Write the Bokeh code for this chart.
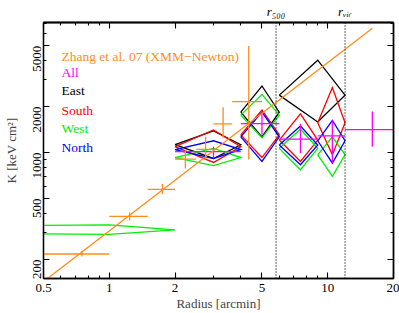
import math
from bokeh.plotting import figure
from bokeh.models import LogAxis, FixedTicker, Span, Label
from bokeh.embed import file_html
from bokeh.resources import INLINE

# ---------------- data ----------------
x_ticks = [0.5, 1, 2, 5, 10, 20]
x_tick_labels = ["0.5", "1", "2", "5", "10", "20"]
x_minor = [0.6, 0.7, 0.8, 0.9, 3, 4, 6, 7, 8, 9]
y_ticks = [200, 500, 1000, 2000, 5000]
y_tick_labels = ["200", "500", "1000", "2000", "5000"]
y_minor = [300, 400, 600, 700, 800, 900, 3000, 4000, 6000, 7000]

r500 = 5.8
rvir = 12.0
radius_marks = [r500, rvir]
radius_mark_labels = ["r\u2085\u2080\u2080", "r\u1d65\u1d62\u1d63"]

# Zhang et al. 07 (XMM-Newton)
zhang_r = [0.75, 1.24, 1.75, 2.23, 2.76, 3.32, 4.35]
zhang_rlo = [0.5, 1.0, 1.5, 2.0, 2.5, 3.0, 3.65]
zhang_rhi = [1.0, 1.5, 2.0, 2.5, 3.0, 3.65, 5.0]
zhang_K = [217, 383, 574, 905, 1050, 1540, 2155]
zhang_Klo = [209, 359, 536, 788, 901, 1250, 900]
zhang_Khi = [227, 406, 622, 1045, 1268, 1981, 4974]

# power-law fit line (end points)
fit_r = [0.4, 16.0]
fit_K = [112, 6500]

# All
all_r = [3.0, 5.0, 7.5, 10.5, 16.0]
all_rlo = [2.0, 4.0, 6.0, 9.0, 12.0]
all_rhi = [4.0, 6.0, 9.0, 12.0, 20.0]
all_K = [1015, 1546, 1226, 1287, 1414]
all_Klo = [928, 1307, 990, 853, 1093]
all_Khi = [1093, 1839, 1545, 1626, 1858]

# East
east_r = [3.0, 5.0, 9.0]
east_rlo = [2.0, 4.0, 6.0]
east_rhi = [4.0, 6.0, 12.0]
east_K = [1126, 1839, 2377]
east_Klo = [915, 1268, 1585]
east_Khi = [1387, 2727, 4023]

# South
south_r = [3.0, 5.0, 7.5, 10.5]
south_rlo = [2.0, 4.0, 6.0, 9.0]
south_rhi = [4.0, 6.0, 9.0, 12.0]
south_K = [1093, 1307, 1208, 1569]
south_Klo = [862, 928, 875, 966]
south_Khi = [1406, 1895, 1793, 2666]

# West (first bin starts at r = 0)
west_r = [1.0, 3.0, 5.0, 7.5, 10.5]
west_rlo = [0.001, 2.0, 4.0, 6.0, 9.0]
west_rhi = [2.0, 4.0, 6.0, 9.0, 12.0]
west_K = [312, 928, 1758, 1066, 966]
west_Klo = [292, 821, 1250, 773, 700]
west_Khi = [336, 1066, 2403, 1422, 1268]

# North
north_r = [3.0, 5.0, 7.5, 10.5]
north_rlo = [2.0, 4.0, 6.0, 9.0]
north_rhi = [4.0, 6.0, 9.0, 12.0]
north_K = [1046, 1268, 1121, 1195]
north_Klo = [915, 875, 833, 853]
north_Khi = [1195, 1839, 1493, 1626]

legend_labels = ["Zhang et al. 07 (XMM\u2212Newton)", "All", "East", "South", "West", "North"]

# ---------------- styles ----------------
FONT = "Liberation Serif, Times New Roman, serif"
ORANGE = "#ff8c1a"
MAGENTA = "#ff00ff"
BLACK = "#000000"
RED = "#ff0000"
GREEN = "#00ee00"
BLUE = "#0000ff"
legend_colors = [ORANGE, MAGENTA, BLACK, RED, GREEN, BLUE]

X_MIN, X_MAX = 0.5, 20
Y_MIN, Y_MAX = 150, 7100
# frame position in the picture (px)
F_LEFT, F_RIGHT, F_TOP, F_BOTTOM = 43, 393, 19, 279


def x_at(px):
    return X_MIN * 10 ** ((px - F_LEFT) / (F_RIGHT - F_LEFT) * math.log10(X_MAX / X_MIN))


def y_at(py):
    return Y_MIN * 10 ** ((F_BOTTOM - py) / (F_BOTTOM - F_TOP) * math.log10(Y_MAX / Y_MIN))


p = figure(width=399, height=313, x_axis_type="log", y_axis_type="log",
           x_range=(X_MIN, X_MAX), y_range=(Y_MIN, Y_MAX),
           output_backend="svg", toolbar_location=None,
           min_border_left=F_LEFT, min_border_right=399 - F_RIGHT,
           min_border_top=F_TOP, min_border_bottom=313 - F_BOTTOM)
p.grid.visible = False
p.outline_line_color = "black"
p.outline_line_width = 1.3
p.background_fill_color = "white"
p.border_fill_color = "white"


def base_axis(ax):
    ax.major_tick_out = 0
    ax.minor_tick_out = 0
    ax.major_tick_line_width = 1.1
    ax.minor_tick_line_width = 1.1
    ax.axis_line_width = 1.3
    ax.major_label_text_font = FONT
    ax.major_label_text_color = "black"
    ax.major_label_text_font_size = "13px"


# main labelled axes
for ax, ticks, minor, labels in ((p.below[0], x_ticks, x_minor, x_tick_labels),
                                 (p.left[0], y_ticks, y_minor, y_tick_labels)):
    base_axis(ax)
    ax.ticker = FixedTicker(ticks=ticks, minor_ticks=minor)
    ax.major_tick_in = 6
    ax.minor_tick_in = 3
    ax.major_label_overrides = {t: s for t, s in zip(ticks, labels)}

# mirrored tick-only axes (no labels): long ticks at label positions, short elsewhere
for side, ticks, minor in (("above", x_ticks, x_minor), ("right", y_ticks, y_minor)):
    for pos, length in ((ticks, 6), (minor, 3)):
        ax = LogAxis(ticker=FixedTicker(ticks=[], minor_ticks=pos))
        base_axis(ax)
        ax.major_tick_in = 0
        ax.minor_tick_in = length
        p.add_layout(ax, side)

# r500 / rvir marks above the frame
mark_axis = LogAxis(ticker=FixedTicker(ticks=radius_marks, minor_ticks=[]))
base_axis(mark_axis)
mark_axis.major_tick_in = 0
mark_axis.axis_line_color = None
mark_axis.major_tick_line_color = None
mark_axis.major_label_overrides = {t: s for t, s in zip(radius_marks, radius_mark_labels)}
mark_axis.major_label_text_font_style = "italic"
mark_axis.major_label_text_font_size = "13px"
mark_axis.major_label_standoff = 4
p.add_layout(mark_axis, "above")

bx = p.below[0]
bx.axis_label = "Radius [arcmin]"
bx.axis_label_text_font = FONT
bx.axis_label_text_font_size = "13px"
bx.axis_label_text_font_style = "normal"
bx.major_label_standoff = 5
bx.axis_label_standoff = 1

ly = p.left[0]
ly.axis_label = "K [keV cm\u00b2]"
ly.axis_label_text_font = FONT
ly.axis_label_text_font_size = "13px"
ly.axis_label_text_font_style = "normal"
ly.major_label_orientation = math.pi / 2
ly.major_label_standoff = 6
ly.axis_label_standoff = 8


def diamonds(r, rlo, rhi, K, Klo, Khi):
    xs = [[a, c, b, c, a] for c, a, b in zip(r, rlo, rhi)]
    ys = [[k, hi, k, lo, k] for k, lo, hi in zip(K, Klo, Khi)]
    return xs, ys


for data, col in [((east_r, east_rlo, east_rhi, east_K, east_Klo, east_Khi), BLACK),
                  ((south_r, south_rlo, south_rhi, south_K, south_Klo, south_Khi), RED),
                  ((west_r, west_rlo, west_rhi, west_K, west_Klo, west_Khi), GREEN),
                  ((north_r, north_rlo, north_rhi, north_K, north_Klo, north_Khi), BLUE)]:
    xs, ys = diamonds(*data)
    p.multi_line(xs, ys, line_color=col, line_width=1.3, line_join="miter")


def crosses(r, rlo, rhi, K, Klo, Khi, col):
    p.segment(x0=rlo, y0=K, x1=rhi, y1=K, line_color=col, line_width=1.3)
    p.segment(x0=r, y0=Klo, x1=r, y1=Khi, line_color=col, line_width=1.3)


crosses(all_r, all_rlo, all_rhi, all_K, all_Klo, all_Khi, MAGENTA)
crosses(zhang_r, zhang_rlo, zhang_rhi, zhang_K, zhang_Klo, zhang_Khi, ORANGE)
p.line(fit_r, fit_K, line_color=ORANGE, line_width=1.3)

for loc in radius_marks:
    p.add_layout(Span(location=loc, dimension="height", line_color="black",
                      line_width=1.2, line_dash="1 2"))

# coloured legend texts
legend_baselines = [54, 70, 88, 108, 127, 145.5]
for txt, col, py in zip(legend_labels, legend_colors, legend_baselines):
    p.add_layout(Label(x=x_at(61), y=y_at(py), text=txt, text_color=col, text_font=FONT,
                       text_font_size="13.5px", text_baseline="alphabetic", text_align="left"))

open("out.html", "w").write(file_html(p, INLINE))
